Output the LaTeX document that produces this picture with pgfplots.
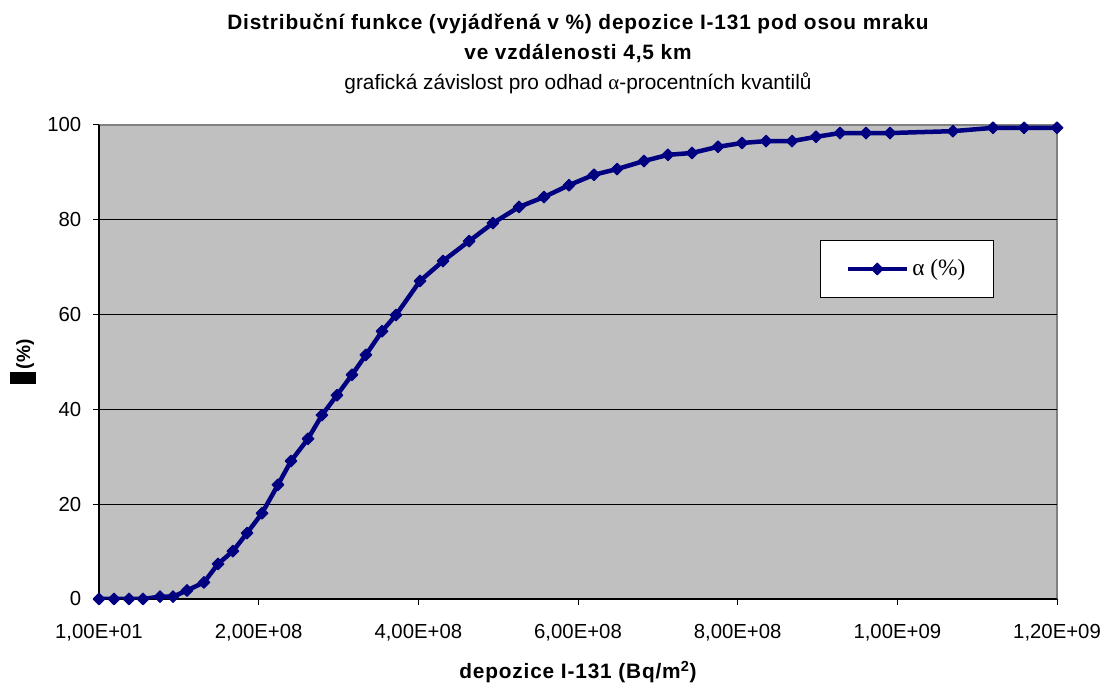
\documentclass[border=0pt]{standalone}
\usepackage{pgfplots}
\pgfplotsset{compat=1.18}
\usepackage{fontspec}
\setmainfont{Liberation Sans}
\newfontfamily\seriffont{Liberation Serif}
\newfontfamily\spacedfont[LetterSpace=4]{Liberation Sans}
\definecolor{plotbg}{HTML}{C0C0C0}
\definecolor{framegray}{HTML}{808080}
\definecolor{curveblue}{HTML}{000080}

% cumulative distribution of I-131 deposition (x in Bq/m^2, y in %)
\pgfplotstableread{
x          y
10         0
1.88e7     0
3.76e7     0
5.51e7     0
7.64e7     0.5
9.27e7     0.5
1.102e8    1.8
1.315e8    3.5
1.491e8    7.4
1.678e8    10.1
1.854e8    13.9
2.042e8    18.1
2.242e8    24.1
2.405e8    29.1
2.618e8    33.8
2.793e8    38.8
2.981e8    43.0
3.169e8    47.3
3.344e8    51.5
3.545e8    56.5
3.720e8    59.9
4.021e8    67.1
4.309e8    71.3
4.635e8    75.5
4.935e8    79.3
5.261e8    82.7
5.574e8    84.8
5.887e8    87.3
6.200e8    89.5
6.489e8    90.7
6.827e8    92.4
7.127e8    93.7
7.428e8    94.1
7.754e8    95.4
8.054e8    96.2
8.355e8    96.6
8.681e8    96.6
8.981e8    97.5
9.282e8    98.3
9.608e8    98.3
9.908e8    98.3
1.0697e9   98.7
1.1198e9   99.4
1.1587e9   99.4
1.2e9      99.4
}\datatable

\begin{document}
\begin{tikzpicture}
\path[use as bounding box] (-59.4pt,-51.6pt) rectangle (603.6pt,359.4pt);
\begin{axis}[
  name=ax, at={(0,0)}, anchor=south west,
  width=574.8pt, height=284.4pt, scale only axis,
  xmin=0, xmax=1.2e9, ymin=0, ymax=100,
  scaled x ticks=false,
  axis x line*=bottom, axis y line*=left,
  axis line style={black, line width=0.8pt, -},
  axis background/.style={fill=plotbg, draw=framegray, line width=0.8pt},
  xtick={0,2e8,4e8,6e8,8e8,1e9,1.2e9},
  xticklabels={{1,00E+01},{2,00E+08},{4,00E+08},{6,00E+08},{8,00E+08},{1,00E+09},{1,20E+09}},
  ytick={0,20,40,60,80},
  extra y ticks={100},
  extra y tick style={grid=none},
  ymajorgrids,
  grid style={black, line width=0.6pt},
  tick align=outside, major tick length=3.6pt,
  tick style={black, line width=0.6pt},
  /pgf/number format/assume math mode=true,
  ticklabel style={font=\fontsize{12.2}{14}\selectfont},
  xticklabel style={anchor=base, yshift=-20.4pt},
  yticklabel style={anchor=east, xshift=-3.5pt},
  xlabel={depozice I-131 (Bq/m\textsuperscript{2})},
  xlabel style={font=\spacedfont\bfseries\fontsize{12.5}{15}\selectfont,
    at={(axis description cs:0.5,0)}, anchor=base, yshift=-48pt},
  ylabel={\rule[-3.6pt]{7.2pt}{15.6pt}\,(\%)},
  ylabel style={font=\bfseries\fontsize{11.5}{14}\selectfont,
    at={(axis description cs:-0.0793,0.5)}, anchor=center},
  legend style={at={(0.7526,0.7574)}, anchor=north west, draw=black,
    line width=0.6pt, fill=white, inner xsep=15pt, inner ysep=9.5pt,
    font=\seriffont\fontsize{14}{16}\selectfont},
  legend image code/.code={\draw[mark repeat=2,mark phase=2,#1]
    plot coordinates {(0pt,0pt) (17.7pt,0pt) (35.4pt,0pt)};},
]
\addplot[curveblue, line width=2.7pt, line join=round, mark=square*,
  mark size=2.5pt, mark options={solid, rotate=45, line width=0.6pt}]
  table[x=x, y=y] {\datatable};
\addlegendentry{α (\%)}
\end{axis}
\node[anchor=base, yshift=57pt, font=\spacedfont\bfseries\fontsize{12.5}{15}\selectfont] at (ax.north)
  {Distribuční funkce (vyjádřená v \%) depozice I-131 pod osou mraku};
\node[anchor=base, yshift=39pt, font=\spacedfont\bfseries\fontsize{12.5}{15}\selectfont] at (ax.north)
  {ve vzdálenosti 4,5 km};
\node[anchor=base, yshift=21pt, font=\fontsize{12.5}{15}\selectfont] at (ax.north)
  {grafická závislost pro odhad {\seriffont α}-procentních kvantilů};
\end{tikzpicture}
\end{document}
